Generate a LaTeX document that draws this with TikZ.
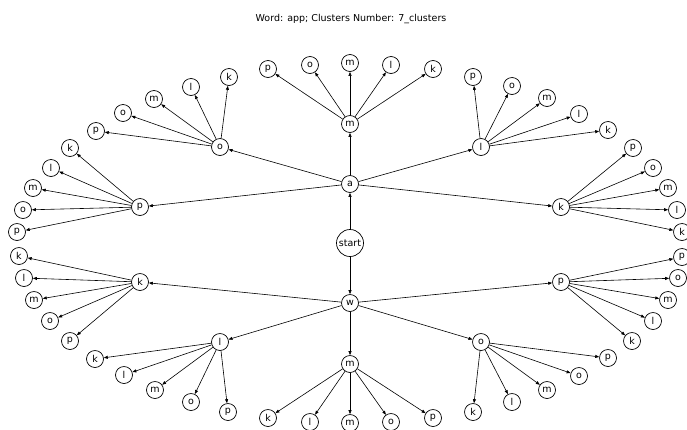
\documentclass[tikz,border=0pt]{standalone}
\usepackage{fontspec}
\setmainfont{DejaVu Sans}
\usetikzlibrary{arrows.meta}
\begin{document}
\begin{tikzpicture}[x=1pt,y=-1pt,
  nd/.style={circle,draw=black,line width=0.7pt,fill=white,minimum size=17pt,inner sep=0pt,font=\fontsize{9.5}{10}\selectfont},
  startnd/.style={nd,minimum size=27pt},
  edge/.style={line width=0.6pt,-{Triangle[length=4pt,width=3pt]}}]
\useasboundingbox (0,0) rectangle (687,429);
\node[font=\fontsize{9.5}{11}\selectfont] (title) at (351,19) {Word: app; Clusters Number: 7\_clusters};
% main nodes
\node[startnd] (start) at (350,243) {start};
\node[nd] (a) at (350,184) {a};
\node[nd] (w) at (350,303) {w};
\draw[edge] (start) -- (a);
\draw[edge] (start) -- (w);
\foreach \pa/\lt/\x/\y/\src in {
  am/m/350/124/a, ao/o/220/147/a, al/l/481/147/a, ap/p/140/207/a, ak/k/561/207/a,
  wk/k/140/282/w, wp/p/561/282/w, wl/l/220/342/w, wo/o/481/342/w, wm/m/350/364/w}{
  \node[nd] (\pa) at (\x,\y) {\lt};
  \draw[edge] (\src) -- (\pa);
}
% leaves
\foreach \pa/\lt/\x/\y in {
  am/p/268/69, am/o/310/65, am/m/350/63, am/l/391/65, am/k/433/69,
  ao/p/96/131, ao/o/123/113, ao/m/154/99, ao/l/191/87, ao/k/229/77,
  ap/k/70/148, ap/l/51/168, ap/m/33/188, ap/o/23/210, ap/p/17/232,
  al/p/473/77, al/o/512/86, al/m/547/98, al/l/579/114, al/k/608/130,
  ak/p/633/148, ak/o/653/168, ak/m/668/188, ak/l/677/210, ak/k/682/232,
  wk/k/19/256, wk/l/24/278, wk/m/34/300, wk/o/50/321, wk/p/70/341,
  wl/k/95/359, wl/l/124/375, wl/m/155/390, wl/o/191/402, wl/p/228/412,
  wm/k/268/418, wm/l/310/422, wm/m/350/423, wm/o/391/422, wm/p/433/418,
  wo/k/473/412, wo/l/512/402, wo/m/547/390, wo/o/579/376, wo/p/608/358,
  wp/k/632/341, wp/l/653/321, wp/m/668/300, wp/o/678/278, wp/p/682/257}{
  \node[nd] (\pa\lt) at (\x,\y) {\lt};
  \draw[edge] (\pa) -- (\pa\lt);
}
\end{tikzpicture}
\end{document}
